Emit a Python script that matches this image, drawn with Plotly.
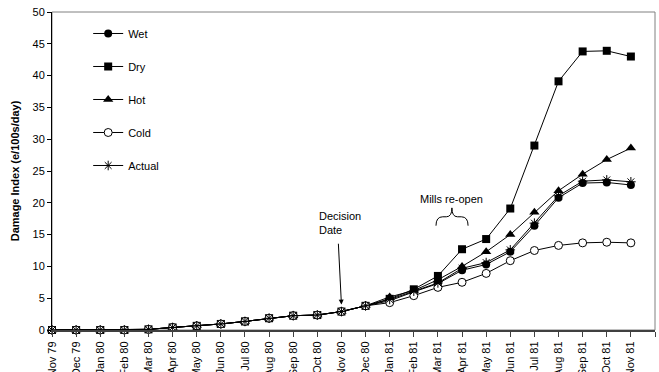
import plotly.graph_objects as go

# Month labels along the x axis (data runs Nov 79 .. Nov 81, axis ends at Dec 81)
months = ["Nov 79", "Dec 79", "Jan 80", "Feb 80", "Mar 80", "Apr 80", "May 80",
          "Jun 80", "Jul 80", "Aug 80", "Sep 80", "Oct 80", "Nov 80", "Dec 80",
          "Jan 81", "Feb 81", "Mar 81", "Apr 81", "May 81", "Jun 81", "Jul 81",
          "Aug 81", "Sep 81", "Oct 81", "Nov 81", "Dec 81"]

# Damage index (e/100s/day) per scenario
wet = [0, 0, 0, 0, 0.1, 0.4, 0.65, 0.95, 1.35, 1.85, 2.25, 2.35, 2.9, 3.8,
       4.6, 6.0, 7.3, 9.4, 10.3, 12.3, 16.4, 20.8, 23.1, 23.2, 22.8]
dry = [0, 0, 0, 0, 0.1, 0.4, 0.65, 0.95, 1.35, 1.85, 2.25, 2.35, 2.9, 3.8,
       4.9, 6.4, 8.5, 12.7, 14.3, 19.1, 29.0, 39.1, 43.8, 43.9, 43.0]
hot = [0, 0, 0, 0, 0.1, 0.4, 0.65, 0.95, 1.35, 1.85, 2.25, 2.35, 2.9, 3.8,
       5.2, 6.2, 7.9, 10.0, 12.3, 15.0, 18.5, 21.9, 24.5, 26.8, 28.6]
cold = [0, 0, 0, 0, 0.1, 0.4, 0.65, 0.95, 1.35, 1.85, 2.25, 2.35, 2.9, 3.8,
        4.3, 5.4, 6.7, 7.5, 8.9, 10.9, 12.5, 13.3, 13.7, 13.8, 13.7]
actual = [0, 0, 0, 0, 0.1, 0.4, 0.65, 0.95, 1.35, 1.85, 2.25, 2.35, 2.9, 3.8,
          4.8, 6.1, 7.4, 9.7, 10.6, 12.6, 16.8, 21.1, 23.4, 23.6, 23.3]

y_ticks = [0, 5, 10, 15, 20, 25, 30, 35, 40, 45, 50]

FONT = "Liberation Sans, Arial, sans-serif"

series = [
    ("Wet", wet, dict(symbol="circle", size=8, color="black")),
    ("Dry", dry, dict(symbol="square", size=8, color="black")),
    ("Hot", hot, dict(symbol="triangle-up", size=9, color="black")),
    ("Cold", cold, dict(symbol="circle", size=8, color="white",
                        line=dict(color="black", width=1))),
    ("Actual", actual, dict(symbol="asterisk-open", size=8, color="black",
                            line=dict(color="black", width=1))),
]

fig = go.Figure()
x_idx = list(range(len(months)))
for i, (name, vals, mk) in enumerate(series):
    fig.add_trace(go.Scatter(
        x=x_idx[:len(vals)], y=vals, name=name, mode="lines+markers",
        line=dict(color="black", width=1), marker=mk,
        legendgroup=f"g{i}", cliponaxis=False,
    ))

# Plot-area frame (top / right edges)
fig.add_shape(type="rect", xref="paper", yref="paper", x0=0, x1=1, y0=0, y1=1,
              line=dict(color="#808080", width=1), layer="below")

# "Decision Date" label with arrow to Nov 80
fig.add_annotation(x=11.0, y=16.8, xref="x", yref="y", text="Decision<br>Date",
                   showarrow=False, xanchor="left", yanchor="middle", align="left",
                   font=dict(family=FONT, size=11, color="black"))
fig.add_annotation(x=12, y=4.0, xref="x", yref="y", ax=11.87, ay=13.8,
                   axref="x", ayref="y", text="", showarrow=True,
                   arrowhead=2, arrowsize=1, arrowwidth=1, arrowcolor="black")

# "Mills re-open" label with brace
fig.add_annotation(x=16.58, y=20.6, xref="x", yref="y", text="Mills re-open",
                   showarrow=False, xanchor="center", yanchor="middle",
                   font=dict(family=FONT, size=11, color="black"))
fig.add_shape(type="path", xref="x", yref="y",
              path=("M 15.92,16.4 Q 15.92,17.8 16.2,17.8 L 16.35,17.8 "
                    "Q 16.58,17.8 16.58,19.2 Q 16.58,17.8 16.81,17.8 "
                    "L 16.97,17.8 Q 17.25,17.8 17.25,16.4"),
              line=dict(color="black", width=1))

fig.update_layout(
    width=659, height=372,
    margin=dict(l=52, r=4, t=12, b=42),
    paper_bgcolor="white", plot_bgcolor="white",
    font=dict(family=FONT, size=11, color="black"),
    showlegend=True,
    legend=dict(x=0.06, y=0.978, xanchor="left", yanchor="top",
                bgcolor="rgba(0,0,0,0)", tracegroupgap=14,
                traceorder="grouped", font=dict(family=FONT, size=11)),
)
fig.update_xaxes(
    range=[0, 25], tickmode="array", tickvals=x_idx, ticktext=months,
    tickangle=-90, ticks="outside", ticklen=5, tickcolor="#404040",
    showline=True, linecolor="#404040", linewidth=2, showgrid=False,
    zeroline=False, automargin=False, tickfont=dict(size=11),
)
fig.update_yaxes(
    range=[0, 50], tickmode="array", tickvals=y_ticks,
    ticks="outside", ticklen=4, tickcolor="black",
    showline=True, linecolor="black", linewidth=1, showgrid=False,
    zeroline=False, automargin=False, tickfont=dict(size=11),
    title=dict(text="<b>Damage Index (e/100s/day)</b>", font=dict(size=11),
               standoff=10),
)

fig.write_html("out.html")
